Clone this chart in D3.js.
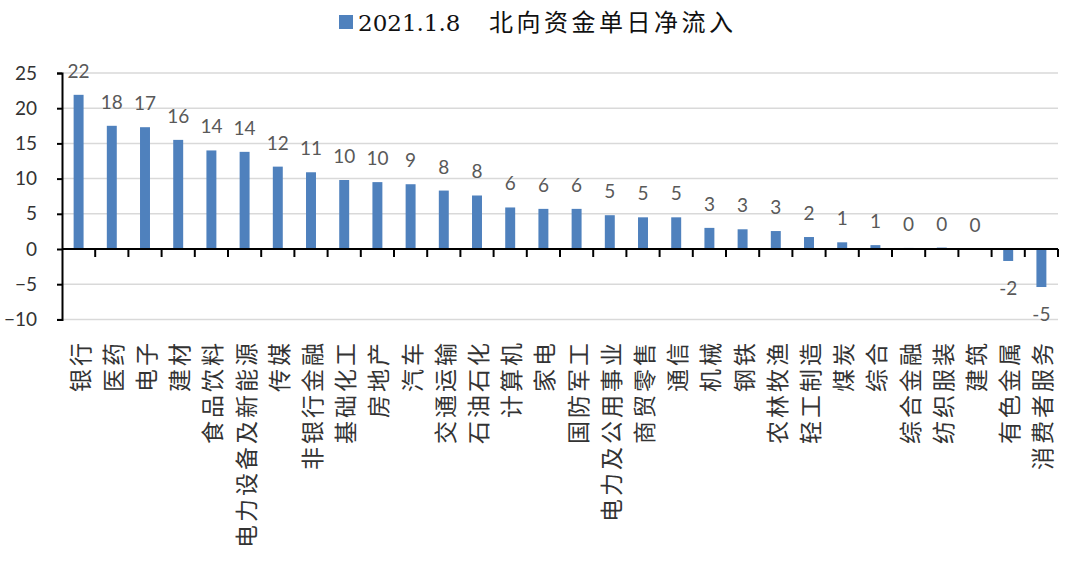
<!DOCTYPE html>
<html><head><meta charset="utf-8">
<script src="https://cdn.jsdelivr.net/npm/d3@7"></script>
<style>
html,body{margin:0;padding:0;background:#fff;}
svg{display:block;}
</style>
</head><body>
<svg id="chart" width="1080" height="561"></svg>
<script>
const categories = ["银行","医药","电子","建材","食品饮料","电力设备及新能源","传媒","非银行金融","基础化工","房地产","汽车","交通运输","石油石化","计算机","家电","国防军工","电力及公用事业","商贸零售","通信","机械","钢铁","农林牧渔","轻工制造","煤炭","综合","综合金融","纺织服装","建筑","有色金属","消费者服务"];
const values = [21.9,17.5,17.3,15.5,14.0,13.8,11.7,10.9,9.8,9.5,9.2,8.3,7.6,5.9,5.7,5.7,4.8,4.5,4.5,3.0,2.8,2.55,1.7,0.95,0.55,0.15,0.2,0.03,-1.7,-5.4];
const yTicks = [-10,-5,0,5,10,15,20,25];
const titleDate = "2021.1.8";
const titleText = "北向资金单日净流入";

const svg = d3.select("#chart");
const plotLeft = 62, plotRight = 1058, plotTop = 73, plotBottom = 319.4;
const barColor = "#4f81bd";

const x = d3.scaleBand().domain(categories).range([plotLeft, plotRight]).paddingInner(0.7).paddingOuter(0.35);
const y = d3.scaleLinear().domain([-10, 25]).range([plotBottom, plotTop]);

// gridlines
svg.append("g").selectAll("line").data(yTicks.filter(t => t !== 0)).join("line")
  .attr("x1", plotLeft).attr("x2", plotRight)
  .attr("y1", d => y(d)).attr("y2", d => y(d))
  .attr("stroke", "#d9d9d9").attr("stroke-width", 1.5);

// bars
svg.append("g").selectAll("rect").data(values).join("rect")
  .attr("x", (d, i) => x(categories[i]))
  .attr("width", x.bandwidth())
  .attr("y", d => y(Math.max(0, d)))
  .attr("height", d => Math.abs(y(d) - y(0)))
  .attr("fill", barColor);

// y axis
const yAxis = d3.axisLeft(y).tickValues(yTicks).tickSize(5).tickPadding(20).tickFormat(d3.format("d"));
const gy = svg.append("g").attr("transform", `translate(${plotLeft},0)`).call(yAxis);
gy.select(".domain").attr("stroke", "#000").attr("stroke-width", 2);
gy.selectAll(".tick line").attr("stroke", "#000").attr("stroke-width", 2);
gy.selectAll(".tick text").attr("font-family", "Lato, 'Liberation Sans', sans-serif").attr("font-size", 19).attr("fill", "#333");

// x axis line at zero
const step = x.step();
svg.append("line").attr("x1", plotLeft).attr("x2", plotRight).attr("y1", y(0)).attr("y2", y(0))
  .attr("stroke", "#000").attr("stroke-width", 2);
const boundaries = d3.range(1, categories.length + 1).map(i => x(categories[i - 1]) + x.bandwidth() / 2 + step / 2);
svg.append("g").selectAll("line").data(boundaries).join("line")
  .attr("x1", d => d).attr("x2", d => d)
  .attr("y1", y(0)).attr("y2", y(0) + 8)
  .attr("stroke", "#000").attr("stroke-width", 2);

// data labels
svg.append("g").selectAll("text").data(values).join("text")
  .attr("x", (d, i) => x(categories[i]) + x.bandwidth() / 2)
  .attr("y", d => d >= 0 ? y(d) - 17 : y(d) + 34)
  .attr("text-anchor", "middle")
  .attr("font-family", "Lato, 'Liberation Sans', sans-serif")
  .attr("font-size", 19)
  .attr("fill", "#595959")
  .text(d => Math.round(d));

// category labels (rotated)
svg.append("g").selectAll("text").data(categories).join("text")
  .attr("transform", d => `translate(${x(d) + x.bandwidth() / 2},340) rotate(-90)`)
  .attr("text-anchor", "end")
  .attr("dominant-baseline", "central")
  .attr("font-family", "'Noto Sans CJK SC', sans-serif")
  .attr("font-size", 23)
  .attr("letter-spacing", 3)
  .attr("fill", "#333")
  .text(d => d);

// title with legend marker
svg.append("rect").attr("x", 339).attr("y", 15).attr("width", 14).attr("height", 14).attr("fill", barColor);
const t = svg.append("text").attr("y", 31).attr("fill", "#111");
t.append("tspan").attr("x", 358).attr("font-family", "'DejaVu Serif', serif").attr("font-size", 23).text(titleDate);
t.append("tspan").attr("x", 489).attr("font-family", "'Noto Sans CJK SC', sans-serif").attr("font-size", 24).attr("letter-spacing", 3.5).text(titleText);
</script>
</body></html>
